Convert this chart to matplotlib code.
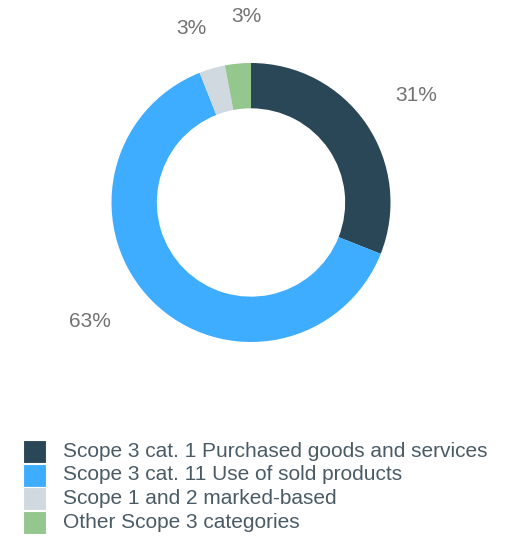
import matplotlib
matplotlib.use("Agg")
import matplotlib.pyplot as plt
from matplotlib.patches import Rectangle
import numpy as np

plt.rcParams['font.family'] = ['Liberation Sans', 'DejaVu Sans']

categories = [
    "Scope 3 cat. 1 Purchased goods and services",
    "Scope 3 cat. 11 Use of sold products",
    "Scope 1 and 2 marked-based",
    "Other Scope 3 categories",
]
shares = [31, 63, 3, 3]
colors = ["#2a4757", "#3fadff", "#cfd9df", "#94c78e"]

# label placement (polar: angle in degrees, radius relative to the ring)
label_angles = [33.0, 216.5, 109.0, 91.5]
label_radii = [1.41, 1.44, 1.32, 1.335]

W, H = 509, 537
fig = plt.figure(figsize=(W / 100, H / 100), dpi=100)

cx, cy, R = 251, 202.5, 139.5
ax = fig.add_axes([(cx - R * 1.6) / W, 1 - (cy + R * 1.6) / H, 3.2 * R / W, 3.2 * R / H])
ax.pie(shares, colors=colors, startangle=90, counterclock=False, radius=1.0,
       wedgeprops=dict(width=0.325, linewidth=0))
ax.set_xlim(-1.6, 1.6)
ax.set_ylim(-1.6, 1.6)
ax.set_aspect('equal')
ax.axis('off')

for v, a, r in zip(shares, label_angles, label_radii):
    t = np.deg2rad(a)
    ax.text(r * np.cos(t), r * np.sin(t), f"{v}%", ha='center', va='center',
            fontsize=15, color="#727272")

# legend
x0, y0, sq, step = 23, 440, 23, 23.5
for i, (lab, c) in enumerate(zip(categories, colors)):
    top = y0 + i * step
    fig.patches.append(Rectangle((x0 / W, 1 - (top + sq) / H), sq / W, sq / H,
                                 transform=fig.transFigure, facecolor=c,
                                 edgecolor='white', linewidth=0.8))
    fig.text(63 / W, 1 - (top + sq / 2) / H, lab, ha='left', va='center',
             fontsize=15, color="#4b5b66")

fig.savefig("out.png", dpi=100)
